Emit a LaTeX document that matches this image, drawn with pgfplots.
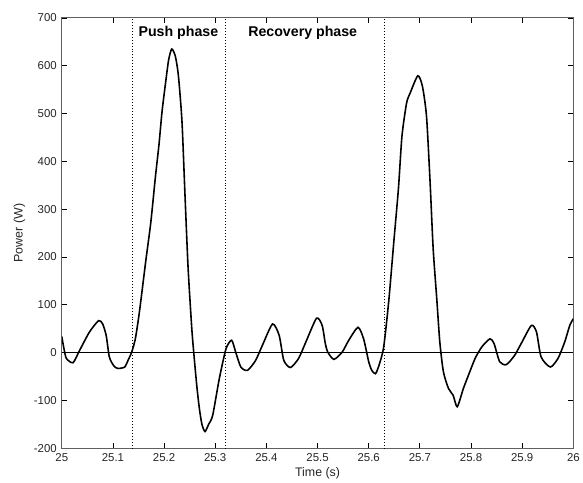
\documentclass[border=0pt]{standalone}
\usepackage{fontspec}
\setmainfont{Liberation Sans}
\usepackage{pgfplots}
\pgfplotsset{compat=1.18}
\definecolor{axgray}{RGB}{95,95,95}
\begin{document}
\begin{tikzpicture}
\begin{axis}[
  at={(0,0)}, anchor=south west,
  scale only axis,
  width=513.5bp, height=432bp,
  xmin=25, xmax=26, ymin=-200, ymax=700,
  xtick={25,25.1,25.2,25.3,25.4,25.5,25.6,25.7,25.8,25.9,26},
  xticklabels={25,25.1,25.2,25.3,25.4,25.5,25.6,25.7,25.8,25.9,26},
  ytick={-200,-100,0,100,200,300,400,500,600,700},
  tick align=inside,
  major tick length=5bp,
  axis line style={axgray, line width=0.9pt},
  every tick/.style={black, line width=0.8pt},
  tick label style={font=\fontsize{11.5}{13}\selectfont, text=black!85},
  xticklabel style={yshift=-1.5bp},
  yticklabel style={xshift=-1.5bp},
  /pgf/number format/assume math mode=true,
  xlabel={Time (s)},
  ylabel={Power (W)},
  label style={font=\fontsize{12.5}{14}\selectfont, text=black!85},
  xlabel style={yshift=1bp},
  ylabel style={yshift=2bp},
  clip=true,
]
\addplot[black, line width=0.6pt, forget plot] coordinates {(25,0) (26,0)};
\addplot[black, line width=0.7pt, dash pattern=on 0.8pt off 2.2pt] coordinates {(25.137,-200) (25.137,700)};
\addplot[black, line width=0.7pt, dash pattern=on 0.8pt off 2.2pt] coordinates {(25.320,-200) (25.320,700)};
\addplot[black, line width=0.7pt, dash pattern=on 0.8pt off 2.2pt] coordinates {(25.631,-200) (25.631,700)};
\addplot[black, line width=1.6pt, smooth, tension=0.4] table {
x y
25.000 34
25.004 10
25.009 -12
25.022 -21
25.035 5
25.054 43
25.072 67
25.080 60
25.087 35
25.093 -9
25.102 -28
25.110 -33
25.123 -30
25.130 -15
25.137 2
25.144 30
25.152 87
25.164 190
25.174 272
25.183 367
25.190 435
25.196 504
25.203 565
25.209 613
25.215 635
25.222 620
25.228 579
25.235 483
25.241 326
25.247 176
25.254 53
25.258 0
25.264 -70
25.269 -117
25.274 -150
25.280 -165
25.287 -150
25.295 -131
25.308 -54
25.321 8
25.332 26
25.340 1
25.350 -30
25.363 -37
25.379 -16
25.392 15
25.412 60
25.425 36
25.434 -16
25.447 -31
25.463 -12
25.477 22
25.498 72
25.509 57
25.515 20
25.520 1
25.532 -14
25.548 1
25.561 26
25.579 53
25.590 29
25.600 -19
25.606 -37
25.613 -44
25.619 -30
25.629 10
25.639 106
25.649 231
25.658 342
25.665 453
25.674 522
25.681 543
25.696 579
25.705 557
25.713 494
25.720 356
25.726 217
25.733 113
25.739 22
25.746 -40
25.756 -75
25.765 -89
25.773 -113
25.785 -75
25.795 -47
25.808 -12
25.821 12
25.837 29
25.845 19
25.856 -19
25.869 -25
25.885 -6
25.898 19
25.918 57
25.928 43
25.937 -9
25.955 -30
25.970 -12
25.983 22
25.993 57
26.000 71
};
\node[font=\fontsize{14.3}{16}\selectfont\bfseries] at (axis cs:25.228,669) {Push phase};
\node[font=\fontsize{14.3}{16}\selectfont\bfseries] at (axis cs:25.471,669) {Recovery phase};
\end{axis}
\path (-62bp,-34bp) rectangle (521bp,450bp);
\end{tikzpicture}
\end{document}
